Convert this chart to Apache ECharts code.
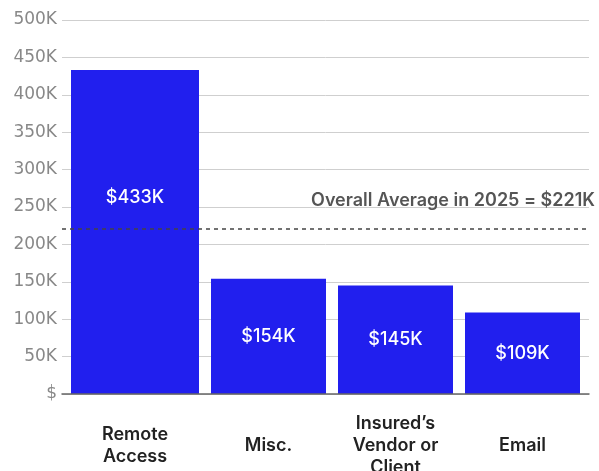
<!DOCTYPE html>
<html>
<head>
<meta charset="utf-8">
<script src="https://cdn.jsdelivr.net/npm/echarts@6/dist/echarts.min.js"></script>
<style>
  html, body { margin: 0; padding: 0; background: #fff; }
  #chart { width: 599px; height: 471px; }
</style>
</head>
<body>
<div id="chart"></div>
<script>
// Average claim cost by attack vector, in thousands of dollars
const categories = ['Remote\nAccess', 'Misc.', 'Insured’s\nVendor or\nClient', 'Email'];
const values = [433, 154, 145, 109];
const overallAverage = 221;
const averageLabel = 'Overall Average in 2025 = $221K';
const yMax = 500;
const yStep = 50;

const BAR = '#211fee';
const labelFont = 'Inter, "Noto Sans", sans-serif';

const chart = echarts.init(document.getElementById('chart'), null, { renderer: 'canvas' });

const valueLabel = v => '$' + v + 'K';

function hiddenY(gridIndex) {
  return {
    type: 'value', gridIndex, min: 0, max: yMax, interval: yStep,
    show: false, splitLine: { show: false }
  };
}

function catAxis(gridIndex, data) {
  return {
    type: 'category', gridIndex, data,
    axisLine: { show: false }, axisTick: { show: false },
    axisLabel: {
      margin: 52, verticalAlign: 'middle', lineHeight: 22,
      color: '#222', fontSize: 18, fontWeight: 600, fontFamily: labelFont
    }
  };
}

const barLabel = {
  show: true, position: 'inside', color: '#fff', fontSize: 18,
  fontWeight: 500, fontFamily: labelFont, formatter: p => valueLabel(p.value)
};

const gridBox = { top: 20, bottom: 77, containLabel: false, outerBoundsMode: 'none' };

chart.setOption({
  animation: false,
  backgroundColor: '#fff',
  grid: [
    Object.assign({ left: 62, right: 10 }, gridBox),    // frame: value axis, gridlines, baseline
    Object.assign({ left: 71, width: 128 }, gridBox),   // leading category
    Object.assign({ left: 205, right: 13 }, gridBox)    // remaining categories
  ],
  xAxis: [
    {
      type: 'category', gridIndex: 0, data: categories, z: 5,
      axisLine: { show: true, lineStyle: { color: '#666', width: 1.5 } },
      axisTick: { show: false }, axisLabel: { show: false }
    },
    catAxis(1, categories.slice(0, 1)),
    catAxis(2, categories.slice(1))
  ],
  yAxis: [
    {
      type: 'value', gridIndex: 0, min: 0, max: yMax, interval: yStep,
      axisLine: { show: false }, axisTick: { show: false },
      splitLine: { lineStyle: { color: '#cfcfcf', width: 1 } },
      axisLabel: {
        margin: 5, color: '#888', fontSize: 17,
        fontFamily: '"DejaVu Sans", sans-serif',
        formatter: v => (v === 0 ? '$' : v + 'K')
      }
    },
    hiddenY(1),
    hiddenY(2)
  ],
  series: [
    {
      type: 'line', xAxisIndex: 0, yAxisIndex: 0, data: [], z: 4,
      markLine: {
        symbol: 'none', silent: true,
        lineStyle: { type: [4, 4], color: '#444', width: 1.5 },
        label: {
          show: true, position: 'insideEndTop', formatter: averageLabel,
          color: '#555', fontSize: 18, fontWeight: 600, fontFamily: labelFont,
          distance: [-6, 19]
        },
        data: [{ yAxis: overallAverage }]
      }
    },
    {
      type: 'bar', xAxisIndex: 1, yAxisIndex: 1, barWidth: '100%',
      itemStyle: { color: BAR },
      label: Object.assign({}, barLabel, { offset: [0, -34] }),
      data: values.slice(0, 1)
    },
    {
      type: 'bar', xAxisIndex: 2, yAxisIndex: 2, barWidth: 115,
      itemStyle: { color: BAR },
      label: barLabel,
      data: values.slice(1)
    }
  ]
});
</script>
</body>
</html>
